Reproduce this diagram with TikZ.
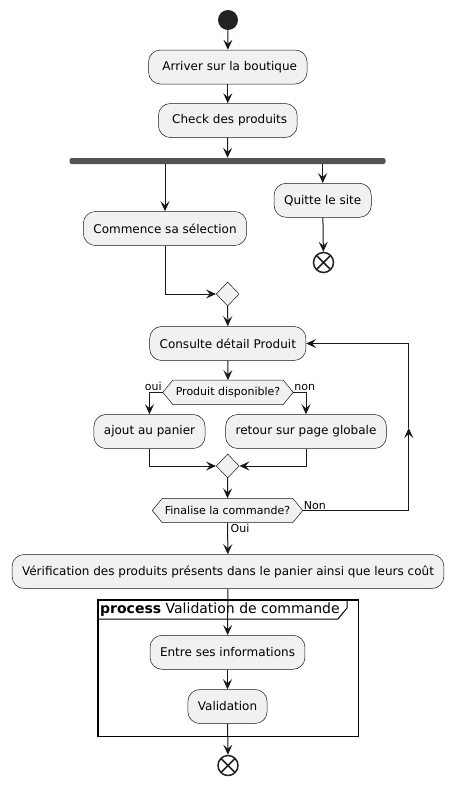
\documentclass[tikz,border=0pt]{standalone}
\usepackage{fontspec}
\setmainfont{DejaVu Sans}
\usetikzlibrary{arrows.meta,shapes.geometric}
\pgfdeclarelayer{bg}
\pgfsetlayers{bg,main}
\definecolor{boxfill}{HTML}{F1F1F1}
\definecolor{lncol}{HTML}{181818}
\definecolor{barcol}{HTML}{555555}
\definecolor{dotcol}{HTML}{222222}
\tikzset{
  act/.style={draw=lncol, line width=0.5pt, fill=boxfill, rounded corners=12pt, minimum height=34pt, inner xsep=10pt, font=\fontsize{12}{14}\selectfont},
  hexnode/.style={minimum height=24pt, inner sep=0pt, font=\fontsize{11}{13}\selectfont},
  hexshape/.style={draw=lncol, line width=0.5pt, fill=boxfill},
  merge/.style={diamond, draw=lncol, line width=0.5pt, fill=boxfill, minimum width=23pt, minimum height=24pt, inner sep=0pt},
  arr/.style={draw=lncol, line width=1pt, -{Stealth[length=10pt,width=9pt,inset=4pt]}},
  lbl/.style={font=\fontsize{11}{13}\selectfont, inner sep=1pt},
  startn/.style={circle, fill=dotcol, minimum size=20pt, inner sep=0pt},
  endn/.style={circle, draw=dotcol, line width=1.5pt, fill=white, minimum size=20pt, inner sep=0pt,
    path picture={\draw[dotcol, line width=1.5pt] (path picture bounding box.north west) -- (path picture bounding box.south east) (path picture bounding box.north east) -- (path picture bounding box.south west);}},
  forkbar/.style={fill=barcol, rounded corners=2pt, minimum height=6pt, inner sep=0pt}
}
\begin{document}
\begin{tikzpicture}[x=1pt,y=-1pt]
\begin{pgfonlayer}{bg}
\fill[white] (0,0) rectangle (454,785);
\end{pgfonlayer}
\useasboundingbox (0,0) rectangle (454,785);

% frame
\node[draw=black, line width=1.5pt, minimum width=260.7pt, minimum height=136.7pt, inner sep=0pt, anchor=north west] (frame) at (97,599) {};
\draw[black, line width=1pt] (97,619) -- (338,619) -- (347,608) -- (347,599);
\node[anchor=base west, inner sep=0pt, font=\fontsize{14}{16}\selectfont] (ftitle) at (100,613) {\textbf{process} Validation de commande};

% nodes
\node[startn] (start) at (228,20) {};
\node[act] (arriver) at (227.8,67) {\ Arriver sur la boutique};
\node[act] (check) at (227.8,120.5) {\ Check des produits};
\node[forkbar, minimum width=316pt] (fork) at (227.5,161) {};
\node[act] (commence) at (165,228.5) {Commence sa sélection};
\node[act] (quitte) at (322.7,200.3) {Quitte le site};
\node[endn] (end1) at (323.5,262.5) {};
\node[merge] (merge1) at (227.7,294) {};
\node[act] (consulte) at (227.8,343.5) {Consulte détail Produit};
\node[hexnode, minimum width=130pt] (prod) at (228,392.3) {Produit disponible?};
\node[act] (ajout) at (149.5,431.5) {ajout au panier};
\node[act] (retour) at (306,431.5) {retour sur page globale};
\node[merge] (merge2) at (227.7,466) {};
\node[hexnode, minimum width=150pt] (fin) at (227.5,510.5) {Finalise la commande?};
\node[act] (verif) at (228,571.5) {Vérification des produits présents dans le panier ainsi que leurs coût};
\node[act] (entre) at (227.5,652.3) {Entre ses informations};
\node[act] (valid) at (227.5,706.5) {Validation};
\node[endn] (end2) at (228,765.5) {};

\begin{pgfonlayer}{bg}
\draw[hexshape] (prod.west) -- ([xshift=10pt]prod.north west) -- ([xshift=-10pt]prod.north east) -- (prod.east) -- ([xshift=-10pt]prod.south east) -- ([xshift=10pt]prod.south west) -- cycle;
\draw[hexshape] (fin.west) -- ([xshift=10pt]fin.north west) -- ([xshift=-10pt]fin.north east) -- (fin.east) -- ([xshift=-10pt]fin.south east) -- ([xshift=10pt]fin.south west) -- cycle;
\end{pgfonlayer}

% connectors
\draw[arr] (start) -- (arriver);
\draw[arr] (arriver) -- (check);
\draw[arr] (check) -- (fork);
\draw[arr] (fork.south -| commence.north) -- (commence.north);
\draw[arr] (fork.south -| quitte.north) -- (quitte.north);
\draw[arr] (quitte) -- (end1);
\draw[arr] (commence.south) |- (merge1.west);
\draw[arr] (merge1) -- (consulte);
\draw[arr] (consulte) -- (prod);
\draw[arr] (prod.west) -| (ajout.north);
\draw[arr] (prod.east) -| (retour.north);
\node[lbl, anchor=south east] (lOui) at (prod.west) {oui};
\node[lbl, anchor=south west] (lNon) at (prod.east) {non};
\draw[arr] (ajout.south) |- (merge2.west);
\draw[arr] (retour.south) |- (merge2.east);
\draw[arr] (merge2) -- (fin);
\coordinate (lb) at (408.7,510.5);
\coordinate (lm) at (408.7,428);
\coordinate (lt) at (408.7,343.5);
\draw[arr] (fin.east) -- (lb) -- (lm);
\draw[arr] (lm) -- (lt) -- (consulte.east);
\node[lbl, anchor=south west] (lNon2) at (fin.east) {Non};
\draw[arr] (fin) -- (verif);
\node[lbl, anchor=north west, xshift=2pt] (lOui2) at (fin.south) {Oui};
\draw[arr] (verif) -- (entre);
\draw[arr] (entre) -- (valid);
\draw[arr] (valid) -- (end2);
\end{tikzpicture}
\end{document}
